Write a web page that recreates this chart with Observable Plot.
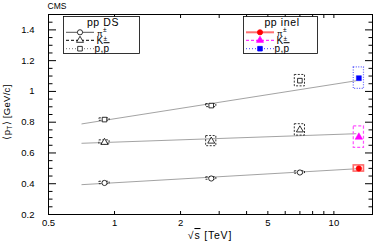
<!DOCTYPE html>
<html><head><meta charset="utf-8">
<script src="https://cdn.jsdelivr.net/npm/d3@7"></script>
<script src="https://cdn.jsdelivr.net/npm/@observablehq/plot@0.6"></script>
<style>
body{margin:0;background:#fff}
svg{font-family:"Liberation Sans",Arial,sans-serif}
</style>
</head><body><div id="chart"></div>
<script>
// ---- data ----
const energiesDS = [0.9, 2.76, 7];
const energiesInel = [13];
const species = ["pi", "K", "p"];
const dsPi = [0.405, 0.434, 0.473];
const dsPiSys = [0.008, 0.008, 0.008];
const dsK = [0.669, 0.677, 0.750];
const dsKSys = [0.013, 0.033, 0.037];
const dsP = [0.817, 0.908, 1.070];
const dsPSys = [0.008, 0.010, 0.037];
const inelPi = [0.499];
const inelPiSys = [0.020];
const inelK = [0.703];
const inelKSys = [0.070];
const inelP = [1.086];
const inelPSys = [0.070];
const fitEnergies = [0.71, 12.6];
const fitPi = [0.394, 0.497];
const fitK = [0.663, 0.725];
const fitP = [0.789, 1.069];
const xTickValues = [0.5, 1, 2, 5, 10];
const xTickLabels = ["0.5", "1", "2", "5", "10"];
const xMinorTicks = [1, 2, 3, 4, 5, 6, 7, 8, 9, 10];
const yTickValues = [0.2, 0.4, 0.6, 0.8, 1.0, 1.2, 1.4];
const yTickLabels = ["0.2", "0.4", "0.6", "0.8", "1", "1.2", "1.4"];
const yMinorTicks = [0.25,0.3,0.35,0.45,0.5,0.55,0.65,0.7,0.75,0.85,0.9,0.95,1.05,1.1,1.15,1.25,1.3,1.35,1.45];

// ---- tables ----
const dsVals = {pi: dsPi, K: dsK, p: dsP};
const dsSys = {pi: dsPiSys, K: dsKSys, p: dsPSys};
const inVals = {pi: inelPi, K: inelK, p: inelP};
const inSys = {pi: inelPiSys, K: inelKSys, p: inelPSys};
const fitVals = {pi: fitPi, K: fitK, p: fitP};
const ds = species.flatMap(sp => energiesDS.map((s, i) => ({sp, s, v: dsVals[sp][i], e: dsSys[sp][i]})));
const inel = species.flatMap(sp => energiesInel.map((s, i) => ({sp, s, v: inVals[sp][i], e: inSys[sp][i]})));
const fits = species.flatMap(sp => fitEnergies.map((s, i) => ({sp, s, v: fitVals[sp][i]})));
const xLab = new Map(xTickValues.map((v, i) => [v, xTickLabels[i]]));
const yLab = new Map(yTickValues.map((v, i) => [v, yTickLabels[i]]));

const symbolOf = {pi: "circle", K: "triangle", p: "square"};
const inelColor = {pi: "#ff0000", K: "#ff00ff", p: "#0000ff"};
const inelBox = {pi: {stroke: "#ff6a6a", dash: null, w: 1.6}, K: {stroke: "#ff55ff", dash: "3,2", w: 1.2}, p: {stroke: "#6060ff", dash: "1,1.5", w: 1.2}};
const bw = 1.055;

const marks = [
  Plot.line(fits, {x: "s", y: "v", z: "sp", stroke: "#999", strokeWidth: 0.9})
];
for (const sp of species) {
  const d = ds.filter(r => r.sp === sp);
  marks.push(Plot.rect(d, {x1: r => r.s / bw, x2: r => r.s * bw, y1: r => r.v - r.e, y2: r => r.v + r.e,
    fill: "none", stroke: "black", strokeWidth: 0.8, strokeDasharray: "2,1.5"}));
  marks.push(Plot.dot(d, {x: "s", y: "v", symbol: symbolOf[sp], r: 2.6, fill: "white", stroke: "black", strokeWidth: 0.8}));
  const q = inel.filter(r => r.sp === sp);
  marks.push(Plot.rect(q, {x1: r => r.s / bw, x2: r => r.s * bw, y1: r => r.v - r.e, y2: r => r.v + r.e,
    fill: "none", stroke: inelBox[sp].stroke, strokeWidth: inelBox[sp].w, strokeDasharray: inelBox[sp].dash}));
  marks.push(Plot.dot(q, {x: "s", y: "v", symbol: symbolOf[sp], r: 2.8, fill: inelColor[sp], stroke: inelColor[sp], strokeWidth: 0.5}));
}

const chart = Plot.plot({
  width: 374, height: 242,
  marginLeft: 48, marginRight: 2, marginTop: 14, marginBottom: 28,
  style: {fontSize: "9.5px", fontFamily: "Liberation Sans, Arial, sans-serif", background: "white", overflow: "visible"},
  x: {type: "log", domain: [0.5, 15]},
  y: {domain: [0.2, 1.5]},
  marks: [
    Plot.frame({stroke: "black", strokeWidth: 1}),
    Plot.axisX({ticks: xTickValues, tickSize: 0, tickPadding: 5, tickFormat: d => xLab.get(d), label: null}),
    Plot.axisX({anchor: "top", frameAnchor: "bottom", ticks: xMinorTicks, tickSize: 4, tickFormat: () => "", label: null}),
    Plot.axisX({anchor: "bottom", frameAnchor: "top", ticks: xMinorTicks, tickSize: 4, tickFormat: () => "", label: null}),
    Plot.axisY({ticks: yTickValues, tickSize: 0, tickPadding: 14, tickFormat: d => yLab.get(d), label: null}),
    Plot.axisY({anchor: "right", frameAnchor: "left", ticks: yTickValues, tickSize: 7, tickFormat: () => "", label: null}),
    Plot.axisY({anchor: "right", frameAnchor: "left", ticks: yMinorTicks, tickSize: 3.5, tickFormat: () => "", label: null}),
    Plot.axisY({anchor: "left", frameAnchor: "right", ticks: yTickValues, tickSize: 7, tickFormat: () => "", label: null}),
    Plot.axisY({anchor: "left", frameAnchor: "right", ticks: yMinorTicks, tickSize: 3.5, tickFormat: () => "", label: null}),
    ...marks
  ]
});
document.getElementById("chart").appendChild(chart);

// ---- labels & legends ----
const svg = d3.select(chart);
svg.append("text").attr("x", 57).attr("y", 8.5).attr("font-size", 8.5).text("CMS");
const yl = svg.append("text").attr("transform", "translate(10,112) rotate(-90)").attr("text-anchor", "middle").attr("font-size", 9.5).attr("letter-spacing", 0.3);
yl.append("tspan").text("⟨p");
yl.append("tspan").attr("font-size", 6.5).attr("dy", 2).text("T");
yl.append("tspan").attr("dy", -2).text("⟩ [GeV/c]");
const xl = svg.append("text").attr("x", 210).attr("y", 239).attr("text-anchor", "middle").attr("font-size", 10.5).attr("letter-spacing", 0.8);
xl.append("tspan").text("√");
xl.append("tspan").attr("text-decoration", "overline").text("s");
xl.append("tspan").text(" [TeV]");

function symPath(sym, r) {
  const m = {circle: d3.symbolCircle, triangle: d3.symbolTriangle, square: d3.symbolSquare}[sym];
  return d3.symbol(m, Math.PI * r * r)();
}
function legend(x0, x1, title, style) {
  const g = svg.append("g");
  g.append("rect").attr("x", x0 + 0.5).attr("y", 16.5).attr("width", x1 - x0).attr("height", 37)
    .attr("fill", "white").attr("stroke", "black").attr("stroke-width", 0.8);
  g.append("text").attr("x", (x0 + x1) / 2 + 2).attr("y", 25.5).attr("text-anchor", "middle").attr("font-size", 10.5).attr("letter-spacing", 0.6).text(title);
  const rowsY = [32.3, 40.3, 48.7];
  species.forEach((sp, i) => {
    const st = style[sp];
    const y = rowsY[i];
    g.append("line").attr("x1", x0 + 3).attr("x2", x0 + 31).attr("y1", y).attr("y2", y)
      .attr("stroke", st.line).attr("stroke-width", st.lw).attr("stroke-dasharray", st.dash);
    g.append("path").attr("d", symPath(symbolOf[sp], 2.6)).attr("transform", `translate(${x0 + 17},${y})`)
      .attr("fill", st.fill).attr("stroke", st.stroke).attr("stroke-width", 0.8);
    const t = g.append("text").attr("x", x0 + 39).attr("y", y + 3.5).attr("font-size", 10).attr("letter-spacing", 0.4);
    if (sp === "pi") { t.append("tspan").attr("font-size", 8).text("π"); t.append("tspan").attr("font-size", 6.5).attr("dy", -3.5).text("±"); }
    if (sp === "K") { t.append("tspan").text("K"); t.append("tspan").attr("font-size", 6.5).attr("dy", -3).text("±"); }
    if (sp === "p") { t.append("tspan").text("p,"); t.append("tspan").attr("text-decoration", "overline").text("p"); }
  });
}
legend(63, 139, "pp DS", {
  pi: {line: "#555", lw: 1, dash: null, fill: "white", stroke: "black"},
  K: {line: "black", lw: 1, dash: "3,2", fill: "white", stroke: "black"},
  p: {line: "#777", lw: 1, dash: "1,2", fill: "white", stroke: "black"}
});
legend(243, 317, "pp inel", {
  pi: {line: "#ff7070", lw: 2, dash: null, fill: "#ff0000", stroke: "#ff0000"},
  K: {line: "#ff00ff", lw: 1, dash: "3,2", fill: "#ff00ff", stroke: "#ff00ff"},
  p: {line: "#4040ff", lw: 1, dash: "1,2", fill: "#0000ff", stroke: "#0000ff"}
});
</script></body></html>
